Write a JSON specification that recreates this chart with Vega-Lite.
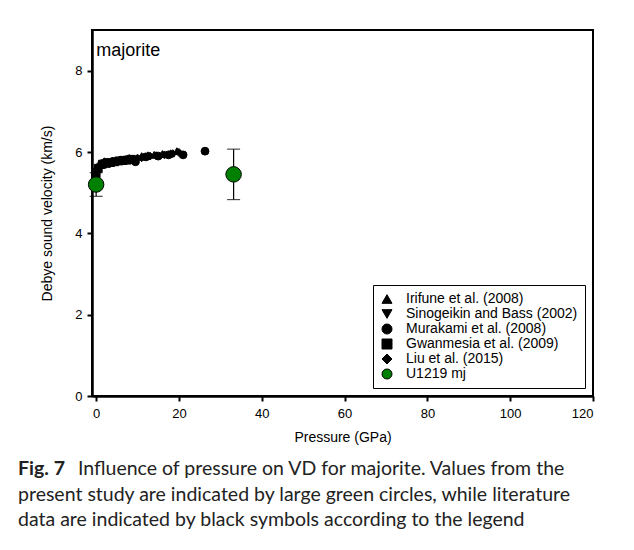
{
  "$schema": "https://vega.github.io/schema/vega-lite/v6.json",
  "autosize": "none",
  "width": 501,
  "height": 366,
  "padding": {"left": 92, "top": 30, "right": 41, "bottom": 154},
  "background": "white",
  "title": {
    "text": "Fig. 7",
    "subtitle": [
      "\u2800\u2800\u2800\u2800Influence of pressure on VD for majorite. Values from the",
      "present study are indicated by large green circles, while literature",
      "data are indicated by black symbols according to the legend"
    ],
    "orient": "bottom",
    "anchor": "start",
    "frame": "group",
    "dx": -74,
    "offset": 16,
    "font": "Lato",
    "fontSize": 19.5,
    "fontWeight": "bold",
    "color": "#222222",
    "subtitleFont": "Lato",
    "subtitleFontSize": 19.5,
    "subtitleColor": "#222222",
    "subtitlePadding": -19.5,
    "subtitleLineHeight": 25.5
  },
  "datasets": {
    "pts": [
      {"src": "Irifune et al. (2008)", "P": 1, "V": 5.68},
      {"src": "Irifune et al. (2008)", "P": 3, "V": 5.74},
      {"src": "Irifune et al. (2008)", "P": 5, "V": 5.78},
      {"src": "Irifune et al. (2008)", "P": 7, "V": 5.8},
      {"src": "Irifune et al. (2008)", "P": 11, "V": 5.9},
      {"src": "Irifune et al. (2008)", "P": 12.5, "V": 5.92},
      {"src": "Irifune et al. (2008)", "P": 14, "V": 5.93},
      {"src": "Irifune et al. (2008)", "P": 16, "V": 5.95},
      {"src": "Irifune et al. (2008)", "P": 18, "V": 5.97},
      {"src": "Irifune et al. (2008)", "P": 19.5, "V": 6.02},
      {"src": "Sinogeikin and Bass (2002)", "P": 0, "V": 5.5},
      {"src": "Sinogeikin and Bass (2002)", "P": 0.5, "V": 5.55},
      {"src": "Sinogeikin and Bass (2002)", "P": 1, "V": 5.62},
      {"src": "Sinogeikin and Bass (2002)", "P": 2, "V": 5.68},
      {"src": "Sinogeikin and Bass (2002)", "P": 3, "V": 5.72},
      {"src": "Sinogeikin and Bass (2002)", "P": 4, "V": 5.74},
      {"src": "Sinogeikin and Bass (2002)", "P": 5, "V": 5.76},
      {"src": "Sinogeikin and Bass (2002)", "P": 6, "V": 5.78},
      {"src": "Sinogeikin and Bass (2002)", "P": 7, "V": 5.8},
      {"src": "Sinogeikin and Bass (2002)", "P": 8, "V": 5.82},
      {"src": "Murakami et al. (2008)", "P": 0, "V": 5.52},
      {"src": "Murakami et al. (2008)", "P": 2.5, "V": 5.74},
      {"src": "Murakami et al. (2008)", "P": 6, "V": 5.8},
      {"src": "Murakami et al. (2008)", "P": 9, "V": 5.8},
      {"src": "Murakami et al. (2008)", "P": 9.5, "V": 5.76},
      {"src": "Murakami et al. (2008)", "P": 12, "V": 5.88},
      {"src": "Murakami et al. (2008)", "P": 15, "V": 5.9},
      {"src": "Murakami et al. (2008)", "P": 17.5, "V": 5.93},
      {"src": "Murakami et al. (2008)", "P": 21, "V": 5.93},
      {"src": "Murakami et al. (2008)", "P": 26.3, "V": 6.02},
      {"src": "Gwanmesia et al. (2009)", "P": 0, "V": 5.47},
      {"src": "Gwanmesia et al. (2009)", "P": 0.5, "V": 5.6},
      {"src": "Gwanmesia et al. (2009)", "P": 1.5, "V": 5.7},
      {"src": "Gwanmesia et al. (2009)", "P": 2.5, "V": 5.72},
      {"src": "Gwanmesia et al. (2009)", "P": 3.5, "V": 5.74},
      {"src": "Gwanmesia et al. (2009)", "P": 4.5, "V": 5.76},
      {"src": "Gwanmesia et al. (2009)", "P": 5.5, "V": 5.78},
      {"src": "Gwanmesia et al. (2009)", "P": 6.5, "V": 5.79},
      {"src": "Gwanmesia et al. (2009)", "P": 7.5, "V": 5.8},
      {"src": "Gwanmesia et al. (2009)", "P": 8.5, "V": 5.82},
      {"src": "Liu et al. (2015)", "P": 0, "V": 5.55},
      {"src": "Liu et al. (2015)", "P": 1.2, "V": 5.72},
      {"src": "Liu et al. (2015)", "P": 2, "V": 5.76},
      {"src": "Liu et al. (2015)", "P": 4, "V": 5.77},
      {"src": "Liu et al. (2015)", "P": 6, "V": 5.8},
      {"src": "Liu et al. (2015)", "P": 8, "V": 5.84},
      {"src": "Liu et al. (2015)", "P": 10, "V": 5.85},
      {"src": "Liu et al. (2015)", "P": 11, "V": 5.86},
      {"src": "Liu et al. (2015)", "P": 13, "V": 5.9},
      {"src": "Liu et al. (2015)", "P": 14.5, "V": 5.91},
      {"src": "Liu et al. (2015)", "P": 16.5, "V": 5.93},
      {"src": "Liu et al. (2015)", "P": 18.5, "V": 5.96},
      {"src": "Liu et al. (2015)", "P": 20, "V": 5.99},
      {"src": "U1219 mj", "P": 0, "V": 5.2, "lo": 4.91, "hi": 5.49},
      {"src": "U1219 mj", "P": 33.2, "V": 5.45, "lo": 4.83, "hi": 6.07}
    ],
    "lbl": [{"t": "majorite", "P": 0, "V": 8.5}]
  },
  "data": {"name": "pts"},
  "layer": [
    {
      "transform": [{"filter": "datum.src === 'U1219 mj'"}],
      "mark": {"type": "rule", "color": "black", "strokeWidth": 1.2},
      "encoding": {
        "x": {"field": "P", "type": "quantitative"},
        "y": {"field": "lo", "type": "quantitative"},
        "y2": {"field": "hi"}
      }
    },
    {
      "transform": [{"filter": "datum.src === 'U1219 mj'"}, {"fold": ["lo", "hi"], "as": ["k", "e"]}],
      "mark": {"type": "tick", "orient": "horizontal", "color": "black", "size": 13, "thickness": 1.2},
      "encoding": {
        "x": {"field": "P", "type": "quantitative"},
        "y": {"field": "e", "type": "quantitative"}
      }
    },
    {
      "mark": {"type": "point", "filled": true, "opacity": 1, "stroke": "black", "strokeWidth": 1},
      "encoding": {
        "x": {"field": "P", "type": "quantitative", "scale": {"domain": [-1, 120], "nice": false, "zero": false},
          "axis": {"title": "Pressure (GPa)", "values": [0, 20, 40, 60, 80, 100, 120], "titlePadding": 10, "labelPadding": 6}},
        "y": {"field": "V", "type": "quantitative", "scale": {"domain": [0, 9], "nice": false},
          "axis": {"title": "Debye sound velocity (km/s)", "values": [0, 2, 4, 6, 8], "titlePadding": 20, "labelPadding": 5}},
        "shape": {"field": "src", "type": "nominal",
          "scale": {"domain": ["Irifune et al. (2008)", "Sinogeikin and Bass (2002)", "Murakami et al. (2008)", "Gwanmesia et al. (2009)", "Liu et al. (2015)", "U1219 mj"],
            "range": ["triangle-up", "triangle-down", "circle", "square", "diamond", "circle"]},
          "legend": {"title": null,
            "encode": {"symbols": {"update": {"size": {"signal": "datum.value === 'U1219 mj' ? 290 : 60"}}}}}},
        "color": {"field": "src", "type": "nominal",
          "scale": {"domain": ["Irifune et al. (2008)", "Sinogeikin and Bass (2002)", "Murakami et al. (2008)", "Gwanmesia et al. (2009)", "Liu et al. (2015)", "U1219 mj"],
            "range": ["black", "black", "black", "black", "black", "#008000"]},
          "legend": {"title": null}},
        "size": {"condition": {"test": "datum.src === 'U1219 mj'", "value": 240}, "value": 62}
      }
    },
    {
      "data": {"name": "lbl"},
      "mark": {"type": "text", "align": "left", "baseline": "middle", "font": "Liberation Sans", "fontSize": 18, "color": "black", "dy": 1},
      "encoding": {
        "x": {"field": "P", "type": "quantitative"},
        "y": {"field": "V", "type": "quantitative"},
        "text": {"field": "t"}
      }
    }
  ],
  "config": {
    "view": {"stroke": "black", "strokeWidth": 2},
    "axis": {"domainColor": "black", "domainWidth": 2.5, "tickColor": "black", "tickWidth": 2, "tickSize": 5,
      "labelFont": "Liberation Sans", "labelFontSize": 13, "labelColor": "black",
      "titleFont": "Liberation Sans", "titleFontSize": 14, "titleFontWeight": "normal", "titleColor": "black", "grid": false},
    "legend": {"orient": "bottom-right", "offset": 8, "strokeColor": "black", "fillColor": "white", "padding": 7,
      "labelFont": "Liberation Sans", "labelFontSize": 14, "labelColor": "black", "labelLimit": 400, "rowPadding": 1, "labelOffset": 12,
      "symbolStrokeColor": "black", "symbolStrokeWidth": 1}
  }
}
